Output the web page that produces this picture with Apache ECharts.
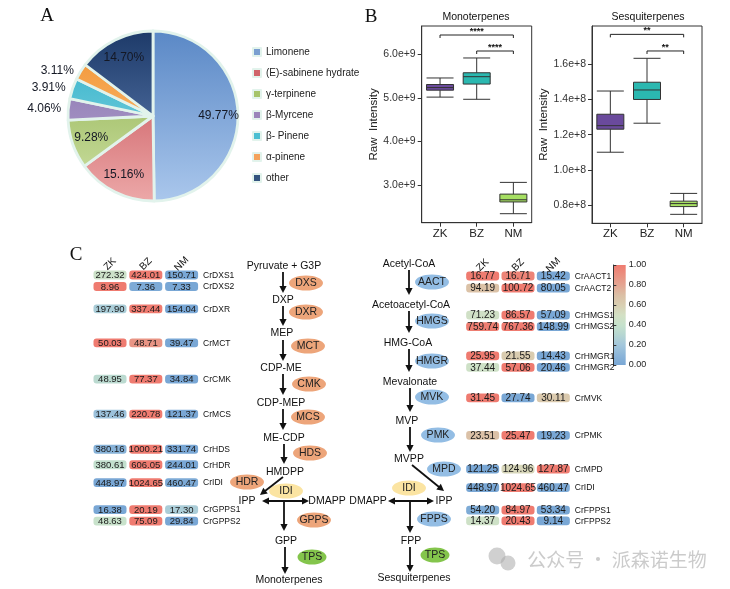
<!DOCTYPE html>
<html><head><meta charset="utf-8">
<script src="https://cdn.jsdelivr.net/npm/echarts@6/dist/echarts.min.js"></script>
<style>html,body{margin:0;padding:0;background:#fff;}#c{width:730px;height:589px;}</style>
</head><body><div id="c"></div>
<script>
// ---------------- DATA ----------------
const pieNames = ['Limonene', '(E)-sabinene hydrate', 'γ-terpinene', 'β-Myrcene', 'β- Pinene', 'α-pinene', 'other'];
const pieValues = [49.77, 15.16, 9.28, 4.06, 3.91, 3.11, 14.70];

const groups = ['ZK', 'BZ', 'NM'];
// [min, Q1, median, Q3, max]
const monoBox = [
  [5.02e9, 5.18e9, 5.24e9, 5.31e9, 5.46e9],
  [4.97e9, 5.32e9, 5.49e9, 5.58e9, 5.92e9],
  [2.34e9, 2.61e9, 2.66e9, 2.79e9, 3.06e9]
];
const sesqBox = [
  [1.10e8, 1.231e8, 1.251e8, 1.316e8, 1.448e8],
  [1.265e8, 1.40e8, 1.454e8, 1.498e8, 1.634e8],
  [0.747e8, 0.791e8, 0.808e8, 0.822e8, 0.866e8]
];
const monoTicks = [3e9, 4e9, 5e9, 6e9];
const sesqTicks = [0.8e8, 1.0e8, 1.2e8, 1.4e8, 1.6e8];
const monoSig = [['ZK', 'NM', '****'], ['BZ', 'NM', '****']];
const sesqSig = [['ZK', 'NM', '**'], ['BZ', 'NM', '**']];

const mepGenes = ['CrDXS1', 'CrDXS2', 'CrDXR', 'CrMCT', 'CrCMK', 'CrMCS', 'CrHDS', 'CrHDR', 'CrIDI', 'CrGPPS1', 'CrGPPS2'];
const mepValues = [
  [272.32, 424.01, 150.71], [8.96, 7.36, 7.33], [197.90, 337.44, 154.04], [50.03, 48.71, 39.47],
  [48.95, 77.37, 34.84], [137.46, 220.78, 121.37], [380.16, 1000.21, 331.74], [380.61, 606.05, 244.01],
  [448.97, 1024.65, 460.47], [16.38, 20.19, 17.30], [48.63, 75.09, 29.84]
];
const mvaGenes = ['CrAACT1', 'CrAACT2', 'CrHMGS1', 'CrHMGS2', 'CrHMGR1', 'CrHMGR2', 'CrMVK', 'CrPMK', 'CrMPD', 'CrIDI', 'CrFPPS1', 'CrFPPS2'];
const mvaValues = [
  [16.77, 16.71, 15.42], [94.19, 100.72, 80.05], [71.23, 86.57, 57.09], [759.74, 767.36, 148.99],
  [25.95, 21.55, 14.43], [37.44, 57.06, 20.46], [31.45, 27.74, 30.11], [23.51, 25.47, 19.23],
  [121.25, 124.96, 127.87], [448.97, 1024.65, 460.47], [54.20, 84.97, 53.34], [14.37, 20.43, 9.14]
];

// ---------------- LAYOUT / STYLE ----------------
const FONT = '"Liberation Sans", Arial, Helvetica, sans-serif';
const mepRowSlot = [0, 2, 5.9, 11.8, 18.1, 24.2, 30.3, 33, 36.1, 40.8, 42.8];
const mvaRowSlot = [0, 2.1, 6.8, 8.8, 13.9, 15.9, 21.2, 27.7, 33.6, 36.8, 40.7, 42.6];
const monoSigLevel = [6.448e9, 6.08e9];
const sesqSigLevel = [1.770e8, 1.6756e8];
const boxColors = ['#6a4a9c', '#2bb8b0', '#a6df62'];
const pieGrad = [
  ['#5a88c6', '#aac7ec'], ['#c2444c', '#eca8a8'], ['#89ab45', '#d0e3a8'], ['#8069a8', '#bcaed6'],
  ['#2aaec6', '#95dbe8'], ['#f2902a', '#fbcb95'], ['#1d3a69', '#6a8abd']
];
const legendColors = ['#7a9fd0', '#d0646a', '#a6c46a', '#9a86ba', '#4cbfd2', '#f4a25c', '#34547f'];
const heatColors = ['#79a7d5', '#8db6d9', '#a3c7dc', '#b6d6d2', '#c6e2cc', '#d3e0c4', '#d9cfb2', '#dbbfa5', '#e4a592', '#ea9080', '#ef7b70'];

const chart = echarts.init(document.getElementById('c'), null, {renderer: 'canvas'});

function grad(c) {
  return {type: 'linear', x: 153, y: 31, x2: 153, y2: 201, global: true,
    colorStops: [{offset: 0, color: c[0]}, {offset: 1, color: c[1]}]};
}
const outerIdx = [3, 4, 5];

// ---------- heatmap helpers ----------
function heatItems(values, slots) {
  const out = [];
  values.forEach((row, i) => {
    const mn = Math.min(...row), mx = Math.max(...row);
    row.forEach((v, j) => out.push([j, slots[i], (v - mn) / (mx - mn), v, i]));
  });
  return out;
}
function heatRender(genes, valFont) {
  return function (params, api) {
    const p = api.coord([api.value(0), api.value(1)]);
    const w = 33, h = 8.8;
    const ch = [
      {type: 'rect', shape: {x: p[0] - w / 2, y: p[1] - h / 2, width: w, height: h, r: 3}, style: {fill: api.visual('color')}},
      {type: 'text', style: {text: api.value(3).toFixed(2), x: p[0], y: p[1] + 0.5, align: 'center', verticalAlign: 'middle',
        textAlign: 'center', textVerticalAlign: 'middle', fontSize: valFont, fontFamily: FONT, fill: '#1a1a1a'}}
    ];
    if (api.value(0) === 2) {
      ch.push({type: 'text', style: {text: genes[api.value(4)], x: p[0] + w / 2 + 5, y: p[1] + 0.5, align: 'left', verticalAlign: 'middle',
        textAlign: 'left', textVerticalAlign: 'middle', fontSize: 8.5, fontFamily: FONT, fill: '#111'}});
    }
    return {type: 'group', children: ch};
  };
}
function bracketSeries(sig, levels, axisIdx) {
  return {
    type: 'custom', xAxisIndex: axisIdx, yAxisIndex: axisIdx, silent: true, z: 5,
    data: sig.map((s, i) => [groups.indexOf(s[0]), levels[i], groups.indexOf(s[1]), i]),
    encode: {x: 0, y: 1},
    renderItem: function (params, api) {
      const a = api.coord([api.value(0), api.value(1)]);
      const b = api.coord([api.value(2), api.value(1)]);
      const t = 3;
      return {type: 'group', children: [
        {type: 'polyline', shape: {points: [[a[0], a[1] + t], [a[0], a[1]], [b[0], b[1]], [b[0], b[1] + t]]},
          style: {stroke: '#222', lineWidth: 1, fill: null}},
        {type: 'text', style: {text: sig[api.value(3)][2], x: (a[0] + b[0]) / 2, y: a[1] + 1, align: 'center', verticalAlign: 'bottom',
          textAlign: 'center', textVerticalAlign: 'bottom', fontSize: 9, fontWeight: 'bold', fontFamily: FONT, fill: '#111'}}
      ]};
    }
  };
}
function boxYAxis(idx, min, max, ticks, fmt, gap) {
  return {
    gridIndex: idx, type: 'value', min: min, max: max, scale: true,
    name: 'Raw  Intensity', nameLocation: 'middle', nameGap: gap, nameRotate: 90,
    nameTextStyle: {fontSize: 11.5, color: '#222', fontFamily: FONT},
    axisLine: {show: true, lineStyle: {color: '#333', width: 1}},
    axisTick: {show: true, length: 4, lineStyle: {color: '#333'}, customValues: ticks},
    axisLabel: {fontSize: 10.5, color: '#333', margin: 6, formatter: fmt, customValues: ticks},
    splitLine: {show: false}
  };
}
function boxXAxis(idx) {
  return {
    gridIndex: idx, type: 'category', data: groups,
    axisLine: {show: true, lineStyle: {color: '#333'}},
    axisTick: {show: true, alignWithLabel: true, length: 4, lineStyle: {color: '#333'}},
    axisLabel: {fontSize: 11.5, color: '#222', margin: 5}
  };
}
function heatXAxis(idx) {
  return {
    gridIndex: idx, type: 'category', data: groups, position: 'top',
    axisLine: {show: false}, axisTick: {show: false}, splitLine: {show: false},
    axisLabel: {rotate: 45, align: 'center', verticalAlign: 'middle', margin: 11, fontSize: 10, color: '#111'}
  };
}

// ---------- pathway diagram (layout) ----------
const pathTexts = [
  ['Pyruvate + G3P', 284, 266], ['DXP', 283, 300], ['MEP', 282, 333], ['CDP-ME', 281, 368], ['CDP-MEP', 281, 403],
  ['ME-CDP', 284, 438], ['HMDPP', 285, 472], ['IPP', 247, 501], ['DMAPP', 327, 501], ['GPP', 286, 541], ['Monoterpenes', 289, 580],
  ['Acetyl-CoA', 409, 264], ['Acetoacetyl-CoA', 411, 305], ['HMG-CoA', 408, 343], ['Mevalonate', 410, 382], ['MVP', 407, 421],
  ['MVPP', 409, 459], ['DMAPP', 368, 501], ['IPP', 444, 501], ['FPP', 411, 541], ['Sesquiterpenes', 414, 578]
];
const ORG = '#eda57a', BLU = '#93bde4', YEL = '#fbe4a2', GRN = '#84c54c';
const enzymes = [
  ['DXS', 306, 283, ORG], ['DXR', 306, 312, ORG], ['MCT', 308, 346, ORG], ['CMK', 309, 384, ORG], ['MCS', 308, 417, ORG],
  ['HDS', 310, 453, ORG], ['HDR', 247, 482, ORG], ['GPPS', 314, 520, ORG], ['IDI', 286, 491, YEL], ['IDI', 409, 488, YEL],
  ['TPS', 312, 557, GRN], ['TPS', 435, 555, GRN],
  ['AACT', 432, 282, BLU], ['HMGS', 432, 321, BLU], ['HMGR', 432, 361, BLU], ['MVK', 432, 397, BLU], ['PMK', 438, 435, BLU],
  ['MPD', 444, 469, BLU], ['FPPS', 434, 519, BLU]
];
const arrows = [
  [283, 272, 283, 293, 0], [283, 306, 283, 326, 0], [283, 340, 283, 361, 0], [283, 374, 283, 395, 0], [283, 409, 283, 430, 0],
  [284, 444, 284, 464, 0], [283, 477, 260, 495, 0], [262, 501, 309, 501, 1], [284, 502, 284, 531, 0], [285, 547, 285, 574, 0],
  [409, 270, 409, 295, 0], [409, 311, 409, 333, 0], [409, 349, 409, 372, 0], [410, 388, 410, 412, 0], [410, 427, 410, 452, 0],
  [412, 465, 444, 491, 0], [388, 501, 434, 501, 1], [410, 502, 410, 533, 0], [410, 547, 410, 572, 0]
];
function txt(t, x, y, size, opts) {
  return Object.assign({type: 'text', z: 10, style: Object.assign({text: t, x: x, y: y, fill: '#111', fontSize: size, fontFamily: FONT,
    textAlign: 'center', textVerticalAlign: 'middle', align: 'center', verticalAlign: 'middle'}, opts || {})});
}
function head(x1, y1, x2, y2) {
  const ang = Math.atan2(y2 - y1, x2 - x1), L = 7, W = 3.6;
  const bx = x2 - L * Math.cos(ang), by = y2 - L * Math.sin(ang);
  const nx = -Math.sin(ang), ny = Math.cos(ang);
  return {type: 'polygon', z: 10, shape: {points: [[x2, y2], [bx + nx * W, by + ny * W], [bx - nx * W, by - ny * W]]}, style: {fill: '#111'}};
}
const graphics = [];
graphics.push(txt('A', 47, 16, 19, {fontFamily: '"Liberation Serif", "Times New Roman", serif'}));
graphics.push(txt('B', 371, 17, 19, {fontFamily: '"Liberation Serif", "Times New Roman", serif'}));
graphics.push(txt('C', 76, 255, 19, {fontFamily: '"Liberation Serif", "Times New Roman", serif'}));
graphics.push(txt('Monoterpenes', 476, 17, 10.5));
graphics.push(txt('Sesquiterpenes', 648, 17, 10.5));
enzymes.forEach(e => {
  const rx = e[0] === 'TPS' ? 14.5 : 17;
  graphics.push({type: 'ellipse', z: 9, shape: {cx: e[1], cy: e[2], rx: rx, ry: 7.6}, style: {fill: e[3]}});
  graphics.push(txt(e[0], e[1], e[2] + 0.5, 10.5, {fill: '#222'}));
});
arrows.forEach(a => {
  const [x1, y1, x2, y2, dbl] = a;
  const ang = Math.atan2(y2 - y1, x2 - x1);
  const sx = dbl ? x1 + 6 * Math.cos(ang) : x1, sy = dbl ? y1 + 6 * Math.sin(ang) : y1;
  graphics.push({type: 'line', z: 10, shape: {x1: sx, y1: sy, x2: x2 - 6 * Math.cos(ang), y2: y2 - 6 * Math.sin(ang)}, style: {stroke: '#111', lineWidth: 1.8}});
  graphics.push(head(x1, y1, x2, y2));
  if (dbl) graphics.push(head(x2, y2, x1, y1));
});
pathTexts.forEach(t => graphics.push(txt(t[0], t[1], t[2], 10.5)));
// watermark
graphics.push({type: 'circle', z: 1, shape: {cx: 497, cy: 556, r: 8.5}, style: {fill: 'rgba(170,170,170,0.55)'}});
graphics.push({type: 'circle', z: 1, shape: {cx: 508, cy: 563, r: 7.5}, style: {fill: 'rgba(170,170,170,0.55)'}});
graphics.push(txt('公众号 · 派森诺生物', 617, 560, 19, {fill: 'rgba(160,160,160,0.55)', fontFamily: '"Noto Sans CJK SC", sans-serif'}));

const option = {
  animation: false,
  backgroundColor: '#fff',
  textStyle: {fontFamily: FONT},
  legend: {
    orient: 'vertical', left: 247, top: 42, itemWidth: 8, itemHeight: 8, itemGap: 11, icon: 'rect',
    textStyle: {fontSize: 10, color: '#222'},
    data: pieNames.map((n, i) => ({name: n, itemStyle: {color: legendColors[i]}}))
  },
  grid: [
    {left: 421.7, top: 26, width: 110, height: 196.7, show: true, borderColor: '#333', borderWidth: 1, containLabel: false},
    {left: 592, top: 26, width: 110, height: 197.3, show: true, borderColor: '#333', borderWidth: 1, containLabel: false},
    {left: 92.1, top: 275, width: 107.4, height: 247.25},
    {left: 465, top: 276, width: 106, height: 247.25},
    {left: 613.3, top: 265, width: 12.4, height: 100, show: true, borderWidth: 0,
      backgroundColor: {type: 'linear', x: 0, y: 0, x2: 0, y2: 1,
        colorStops: heatColors.slice().reverse().map((c, i, arr) => ({offset: i / (arr.length - 1), color: c}))}}
  ],
  xAxis: [
    boxXAxis(0), boxXAxis(1), heatXAxis(2), heatXAxis(3),
    {gridIndex: 4, type: 'value', show: false, min: 0, max: 1}
  ],
  yAxis: [
    boxYAxis(0, 2.133e9, 6.655e9, monoTicks, v => (v / 1e9).toFixed(1) + 'e+9', 41),
    boxYAxis(1, 0.696e8, 1.8176e8, sesqTicks, v => (v / 1e8).toFixed(1) + 'e+8', 41),
    {gridIndex: 2, type: 'value', min: 0, max: 43, inverse: true, show: false},
    {gridIndex: 3, type: 'value', min: 0, max: 43, inverse: true, show: false},
    {gridIndex: 4, type: 'value', min: 0, max: 1, interval: 0.2, position: 'right',
      axisLine: {show: true, lineStyle: {color: '#333', width: 1}},
      axisTick: {show: true, length: 3, lineStyle: {color: '#333'}},
      axisLabel: {fontSize: 9, color: '#222', margin: 3, formatter: v => v.toFixed(2)},
      splitLine: {show: false}}
  ],
  visualMap: {
    type: 'continuous', show: false, dimension: 2, min: 0, max: 1, seriesIndex: [6, 7],
    inRange: {color: heatColors}
  },
  series: [
    {
      type: 'pie', center: [153, 116], radius: 85, startAngle: 90, clockwise: true, silent: true,
      label: {show: false}, labelLine: {show: false},
      itemStyle: {borderColor: '#e2f3ec', borderWidth: 2.8},
      data: pieNames.map((n, i) => ({name: n, value: pieValues[i], itemStyle: {color: grad(pieGrad[i])}}))
    },
    {
      type: 'pie', center: [153, 116], radius: [40, 85], startAngle: 90, clockwise: true, silent: true, z: 3,
      avoidLabelOverlap: false, legendHoverLink: false,
      itemStyle: {color: 'rgba(0,0,0,0)', borderWidth: 0},
      labelLine: {show: false, length: 2, length2: 0},
      label: {show: true, fontSize: 12, color: '#141824', formatter: p => p.value.toFixed(2) + '%'},
      data: pieNames.map((n, i) => ({name: n, value: pieValues[i],
        label: {position: outerIdx.includes(i) ? 'outside' : 'inside'}}))
    },
    {
      type: 'boxplot', xAxisIndex: 0, yAxisIndex: 0, boxWidth: [27, 27], silent: true,
      itemStyle: {borderColor: '#333', borderWidth: 1},
      data: monoBox.map((d, i) => ({value: d, itemStyle: {color: boxColors[i], borderColor: '#333'}}))
    },
    bracketSeries(monoSig, monoSigLevel, 0),
    {
      type: 'boxplot', xAxisIndex: 1, yAxisIndex: 1, boxWidth: [27, 27], silent: true,
      itemStyle: {borderColor: '#333', borderWidth: 1},
      data: sesqBox.map((d, i) => ({value: d, itemStyle: {color: boxColors[i], borderColor: '#333'}}))
    },
    bracketSeries(sesqSig, sesqSigLevel, 1),
    {
      type: 'custom', xAxisIndex: 2, yAxisIndex: 2, silent: true, encode: {x: 0, y: 1},
      renderItem: heatRender(mepGenes, 9.5), data: heatItems(mepValues, mepRowSlot)
    },
    {
      type: 'custom', xAxisIndex: 3, yAxisIndex: 3, silent: true, encode: {x: 0, y: 1},
      renderItem: heatRender(mvaGenes, 10), data: heatItems(mvaValues, mvaRowSlot)
    }
  ],
  graphic: {elements: graphics}
};
chart.setOption(option);
</script>
</body></html>
